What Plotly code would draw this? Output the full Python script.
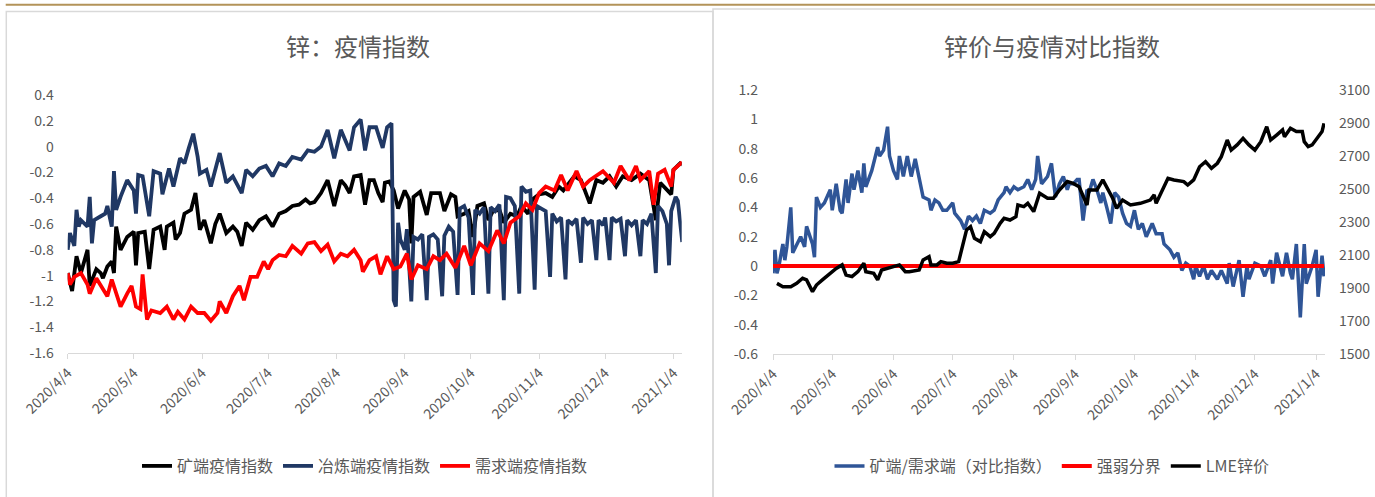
import pandas as pd
import plotly.graph_objects as go

BASE_DATE = "2020-04-04"

# ---------------- Left chart: 锌：疫情指数 ----------------
mine_days = [0,2,4,6,9,10,13,15,16,18, 20,21,22,24,27,30,31,32,35,37, 39,42,44,45,48,49,51,53,56,58,
             60,62,65,67,69,72,75,77,79,81, 84,87,90,93,96,99,102,105,108,110, 112,115,118,121,124,126,128,130,133,135,
             137,139,141,143,144,146,148,150,153,155, 156,157,160,163,165,169,171,174,176,177, 180,182,184,186,189,191,193,196,198,201,
             204,206,209,211,214,217,220,223,225,228, 230,233,237,240,243,246,249,252,256,260, 264,267,269,274,275,278,279]
mine_vals = [-0.98,-1.12,-0.85,-0.98,-0.80,-1.08,-0.95,-0.98,-1.02,-0.93, -0.89,-0.98,-0.62,-0.80,-0.70,-0.66,-0.92,-0.67,-0.66,-0.95,
             -0.645,-0.62,-0.80,-0.62,-0.59,-0.72,-0.67,-0.52,-0.49,-0.36, -0.645,-0.57,-0.75,-0.60,-0.52,-0.67,-0.62,-0.66,-0.77,-0.59,
             -0.645,-0.57,-0.54,-0.62,-0.52,-0.50,-0.46,-0.45,-0.41,-0.44, -0.43,-0.36,-0.26,-0.46,-0.26,-0.30,-0.36,-0.23,-0.22,-0.45,
             -0.26,-0.26,-0.36,-0.43,-0.28,-0.27,-0.34,-0.48,-0.34,-0.41, -0.75,-0.39,-0.35,-0.53,-0.36,-0.36,-0.50,-0.37,-0.39,-0.54,
             -0.52,-0.50,-0.70,-0.46,-0.44,-0.57,-0.50,-0.49,-0.59,-0.52, -0.54,-0.46,-0.52,-0.41,-0.37,-0.36,-0.39,-0.31,-0.34,-0.28,
             -0.23,-0.26,-0.44,-0.26,-0.28,-0.23,-0.31,-0.23,-0.26,-0.21, -0.26,-0.57,-0.28,-0.37,-0.18,-0.13,-0.14]

smelt_days = [0,1,3,4,5,6,9,10,11,12, 15,17,18,20,21,22,24,27,30,31, 32,34,37,39,42,43,46,48,51,53,
              55,57,59,60,63,65,69,72,75,79, 81,84,87,90,93,96,99,102,106,109, 112,115,118,121,124,126,128,130,133,135,
              137,140,143,145,147,148,149,
              150,151,153,154,156, 157,159,161,163, 164,166,168,170, 171,173,175,177, 178,180,182,184, 185,187,189,191,
              192,194,196,198, 199,201,203,205, 206,208,210,212, 213,215,217,219, 220,222,224,226, 227,229,231,233,
              234,236,238,240, 241,243,244,246, 247,249,251,253, 254,256,258,260, 261,263,265,267, 268,270,272,273, 274,276,277,279]
smelt_vals = [-0.80,-0.67,-0.77,-0.49,-0.62,-0.57,-0.62,-0.39,-0.75,-0.57, -0.54,-0.52,-0.46,-0.62,-0.19,-0.49,-0.39,-0.26,-0.34,-0.52,
              -0.22,-0.23,-0.54,-0.19,-0.21,-0.37,-0.17,-0.31,-0.09,-0.13, -0.01,0.10,-0.08,-0.21,-0.18,-0.31,-0.05,-0.28,-0.23,-0.36,
              -0.18,-0.23,-0.17,-0.15,-0.23,-0.13,-0.15,-0.08,-0.10,-0.03, -0.04,0.0,0.13,-0.09,0.13,0.05,-0.03,0.15,0.21,-0.03,
              0.15,0.15,-0.01,0.15,0.18,-1.19,-1.24,
              -0.59,-0.72,-0.80,-0.64,-1.20, -0.70,-0.72,-0.68,-1.19, -0.70,-0.68,-0.72,-1.16, -0.69,-0.62,-0.66,-1.15,
              -0.48,-0.46,-0.55,-1.15, -0.49,-0.52,-0.47,-1.14, -0.47,-0.50,-0.45,-1.19, -0.39,-0.40,-0.46,-1.14,
              -0.31,-0.35,-0.34,-1.11, -0.46,-0.48,-0.50,-1.01, -0.52,-0.58,-0.55,-1.03, -0.57,-0.60,-0.56,-0.90,
              -0.55,-0.60,-0.57,-0.88, -0.57,-0.61,-0.55,-0.88, -0.55,-0.58,-0.56,-0.85, -0.57,-0.61,-0.57,-0.85,
              -0.57,-0.60,-0.52,-0.98, -0.46,-0.50,-0.60,-0.92, -0.50,-0.39,-0.42,-0.74]

demand_days = [0,1,3,6,9,10,13,15,18,20, 24,27,29,31,33,34,36,38,42,45, 48,50,53,56,59,62,65,68,69,72,
               75,78,80,83,86,89,91,93,96,99, 102,106,109,112,115,118,121,124,127,130, 133,134,137,140,142,145,148,151,154,156,
               159,163,166,169,172,176,180,183,187,191, 195,198,201,205,208,211,214,217,221,224, 227,231,234,237,243,248,251,255,258,260,
               264,266,268,271,274,275,279]
demand_vals = [-0.98,-1.07,-1.01,-0.98,-1.07,-1.14,-1.02,-1.08,-1.16,-1.03, -1.24,-1.14,-1.08,-1.24,-1.26,-0.99,-1.34,-1.27,-1.29,-1.24,
               -1.34,-1.28,-1.34,-1.24,-1.29,-1.29,-1.35,-1.29,-1.20,-1.29, -1.16,-1.08,-1.19,-1.01,-1.01,-0.89,-0.95,-0.88,-0.84,-0.85,
               -0.77,-0.83,-0.75,-0.74,-0.81,-0.76,-0.89,-0.83,-0.85,-0.80, -0.88,-0.97,-0.88,-0.85,-0.99,-0.85,-0.95,-0.93,-0.83,-1.03,
               -0.92,-0.95,-0.85,-0.88,-0.83,-0.94,-0.77,-0.92,-0.75,-0.81, -0.65,-0.75,-0.59,-0.54,-0.44,-0.49,-0.36,-0.31,-0.34,-0.22,
               -0.34,-0.19,-0.31,-0.26,-0.19,-0.28,-0.15,-0.26,-0.15,-0.26, -0.19,-0.45,-0.21,-0.18,-0.31,-0.18,-0.12]

# ---------------- Right chart: 锌价与疫情对比指数 ----------------
ratio_days = [0,1,2,3,5,6,7,9,10,12, 14,16,17,20,21,22,24,26,29,30, 32,34,35,37,38,40,41,43,45,46,
              47,50,53,54,56,58,59,61,63,64, 66,68,70,72,74,76,79,80,82,84, 86,88,91,92,95,97,99,101,103,105,
              107,110,112,114,117,118,120,122,124,127, 129,131,133,134,136,139,141,143,145,147, 149,150,152,154,155,157,159,160,162,164,
              166,167,169,171,173,175,177,179,181,183, 185,187,189,192,194,197,198,201,203,205, 207,209,211,213,214,216,218,220,222,225,
              227,230,231,233,236,238,240,241,244,247, 249,252,253,255,258,260,262,263,265,267, 269,270,273,275,276,278,279]
ratio_vals = [-0.05,0.11,-0.05,0.0,0.15,0.04,0.13,0.40,0.09,0.15, 0.20,0.13,0.27,0.15,0.06,0.47,0.40,0.43,0.52,0.38,
              0.56,0.38,0.36,0.59,0.43,0.63,0.52,0.65,0.50,0.70, 0.54,0.65,0.81,0.75,0.79,0.95,0.75,0.65,0.59,0.75,
              0.61,0.75,0.61,0.73,0.61,0.47,0.45,0.38,0.45,0.43, 0.38,0.38,0.43,0.36,0.31,0.25,0.34,0.31,0.34,0.29,
              0.38,0.36,0.38,0.45,0.50,0.54,0.50,0.54,0.52,0.54, 0.59,0.52,0.59,0.75,0.56,0.61,0.70,0.47,0.56,0.61,
              0.52,0.56,0.56,0.59,0.59,0.31,0.52,0.50,0.59,0.52, 0.43,0.50,0.40,0.29,0.50,0.47,0.36,0.29,0.27,0.38,
              0.25,0.29,0.20,0.29,0.22,0.22,0.15,0.11,0.06,0.09, -0.03,0.02,0.0,-0.09,0.0,-0.07,0.0,-0.09,-0.03,-0.09,
              -0.03,-0.12,0.02,-0.14,0.04,-0.21,0.0,-0.09,0.02,0.0, -0.07,0.04,-0.12,0.09,-0.07,0.09,-0.05,-0.09,0.15,-0.35,
              0.15,-0.12,0.0,0.11,-0.21,0.07,-0.07]

boundary_days = [0, 279]
boundary_vals = [0, 0]

lme_days = [2,5,9,12,15,17,20,22,25,29, 32,35,37,40,43,46,47,51,53,55, 58,61,64,67,69,74,76,79,80,83,
            85,88,91,94,96,98,100,102,105,107, 110,112,115,117,120,123,124,127,129,132, 135,139,142,145,149,152,155,159,160,164,
            167,170,172,174,177,181,186,191,193,194, 196,200,203,208,210,213,216,219,222,225, 227,230,232,235,238,241,244,247,250,252,
            255,258,259,262,265,268,269,271,273,275, 278,279]
lme_vals = [1928,1908,1908,1928,1959,1949,1878,1918,1949,1989, 2019,2040,1979,1969,1999,2050,1999,1989,1949,2009,
            2019,2029,2040,1999,1999,2009,2070,2090,2040,2040, 2060,2050,2050,2060,2151,2252,2272,2201,2181,2241,
            2211,2231,2292,2322,2312,2332,2403,2393,2413,2363, 2474,2444,2444,2494,2545,2534,2514,2403,2494,2494,
            2555,2494,2444,2383,2433,2403,2413,2433,2464,2413, 2464,2565,2555,2545,2524,2555,2635,2666,2625,2656,
            2696,2797,2736,2767,2807,2767,2736,2787,2878,2797, 2827,2858,2817,2868,2848,2848,2787,2757,2767,2797,
            2848,2898]

# ---------------- Axis ticks ----------------
month_ticks = ["2020-04-04","2020-05-04","2020-06-04","2020-07-04","2020-08-04",
               "2020-09-04","2020-10-04","2020-11-04","2020-12-04","2021-01-04"]
month_labels = ["2020/4/4","2020/5/4","2020/6/4","2020/7/4","2020/8/4",
                "2020/9/4","2020/10/4","2020/11/4","2020/12/4","2021/1/4"]
left_yticks = [0.4,0.2,0,-0.2,-0.4,-0.6,-0.8,-1,-1.2,-1.4,-1.6]
left_ylabels = ["0.4","0.2","0","-0.2","-0.4","-0.6","-0.8","-1","-1.2","-1.4","-1.6"]
right_yticks = [1.2,1,0.8,0.6,0.4,0.2,0,-0.2,-0.4,-0.6]
right_ylabels = ["1.2","1","0.8","0.6","0.4","0.2","0","-0.2","-0.4","-0.6"]
price_ticks = [3100,2900,2700,2500,2300,2100,1900,1700,1500]

for d, v in [(mine_days, mine_vals), (smelt_days, smelt_vals), (demand_days, demand_vals),
             (ratio_days, ratio_vals), (lme_days, lme_vals)]:
    assert len(d) == len(v), (len(d), len(v))


def to_dates(days):
    return pd.Timestamp(BASE_DATE) + pd.to_timedelta(days, unit="D")


W, H = 1375, 497
FONT = "Noto Sans CJK SC"
GREY = "#595959"
AXIS = "#D9D9D9"


def fx(px):
    return px / W


def fy(py):
    return 1 - py / H


fig = go.Figure()

# left chart traces
fig.add_trace(go.Scatter(x=to_dates(mine_days), y=mine_vals, name="矿端疫情指数", mode="lines",
                         line=dict(color="#000000", width=3.8), xaxis="x", yaxis="y", legend="legend"))
fig.add_trace(go.Scatter(x=to_dates(smelt_days), y=smelt_vals, name="冶炼端疫情指数", mode="lines",
                         line=dict(color="#203864", width=3.8), xaxis="x", yaxis="y", legend="legend"))
fig.add_trace(go.Scatter(x=to_dates(demand_days), y=demand_vals, name="需求端疫情指数", mode="lines",
                         line=dict(color="#FF0000", width=3.8), xaxis="x", yaxis="y", legend="legend"))

# right chart traces
fig.add_trace(go.Scatter(x=to_dates(ratio_days), y=ratio_vals, name="矿端/需求端（对比指数）", mode="lines",
                         line=dict(color="#2F5597", width=3.5), xaxis="x2", yaxis="y2", legend="legend2"))
fig.add_trace(go.Scatter(x=to_dates(boundary_days), y=boundary_vals, name="强弱分界", mode="lines",
                         line=dict(color="#FF0000", width=4), xaxis="x2", yaxis="y2", legend="legend2"))
fig.add_trace(go.Scatter(x=to_dates(lme_days), y=lme_vals, name="LME锌价", mode="lines",
                         line=dict(color="#000000", width=3.5), xaxis="x2", yaxis="y3", legend="legend2"))

tickfont = dict(family=FONT, size=14, color=GREY)

xcommon = dict(type="date", tickmode="array", tickvals=month_ticks, ticktext=month_labels,
               tickangle=-45, tickfont=tickfont, showgrid=False, zeroline=False, automargin=False,
               showline=True, linecolor=AXIS, linewidth=1.3, ticks="outside", ticklen=5,
               tickcolor=AXIS, tickwidth=1.3)
ycommon = dict(tickmode="array", tickfont=tickfont, showgrid=False, zeroline=False,
               showline=False, ticks="", automargin=False)

legend_font = dict(family=FONT, size=16, color=GREY)

fig.update_layout(
    template="none",
    width=W, height=H, autosize=False,
    margin=dict(l=0, r=0, t=0, b=0, pad=0, autoexpand=False),
    paper_bgcolor="white", plot_bgcolor="white",
    font=dict(family=FONT, color=GREY),
    showlegend=True,
    xaxis=dict(domain=[fx(67.7), fx(681.7)], anchor="y",
               range=["2020-04-04", "2021-01-07 18:00"], **xcommon),
    yaxis=dict(domain=[fy(353), fy(95)], anchor="x", range=[-1.6, 0.4],
               tickvals=left_yticks, ticktext=left_ylabels, ticklabelstandoff=13, **ycommon),
    xaxis2=dict(domain=[fx(773), fx(1325)], anchor="y2",
                range=["2020-04-04", "2021-01-08 12:00"], **xcommon),
    yaxis2=dict(domain=[fy(354), fy(90)], anchor="x2", range=[-0.6, 1.2],
                tickvals=right_yticks, ticktext=right_ylabels, ticklabelstandoff=14, **ycommon),
    yaxis3=dict(overlaying="y2", anchor="x2", side="right", range=[1500, 3100],
                tickvals=price_ticks, ticklabelstandoff=13, **ycommon),
    legend=dict(orientation="h", x=fx(365), xanchor="center", y=fy(466), yanchor="middle",
                font=legend_font, bgcolor="rgba(0,0,0,0)", traceorder="normal"),
    legend2=dict(orientation="h", x=fx(1052), xanchor="center", y=fy(466), yanchor="middle",
                 font=legend_font, bgcolor="rgba(0,0,0,0)", traceorder="normal"),
    annotations=[
        dict(text="锌：疫情指数", x=fx(358), y=fy(46), xref="paper", yref="paper",
             showarrow=False, xanchor="center", yanchor="middle",
             font=dict(family=FONT, size=24, color=GREY)),
        dict(text="锌价与疫情对比指数", x=fx(1052), y=fy(46), xref="paper", yref="paper",
             showarrow=False, xanchor="center", yanchor="middle",
             font=dict(family=FONT, size=24, color=GREY)),
    ],
    shapes=[
        dict(type="line", xref="paper", yref="paper", x0=fx(5.7), x1=1.01, y0=fy(4.8), y1=fy(4.8),
             line=dict(color="#B39359", width=2), layer="below"),
        dict(type="rect", xref="paper", yref="paper", x0=fx(6.3), x1=fx(713), y0=-0.02, y1=fy(11.5),
             line=dict(color=AXIS, width=1.5), fillcolor="rgba(0,0,0,0)", layer="below"),
        dict(type="rect", xref="paper", yref="paper", x0=fx(713), x1=1.02, y0=-0.02, y1=fy(9),
             line=dict(color=AXIS, width=1.5), fillcolor="rgba(0,0,0,0)", layer="below"),
    ],
)

fig.write_html("out.html", config={"responsive": False, "displayModeBar": False},
               post_script="document.body.style.margin='0px';document.body.style.overflow='hidden';")
